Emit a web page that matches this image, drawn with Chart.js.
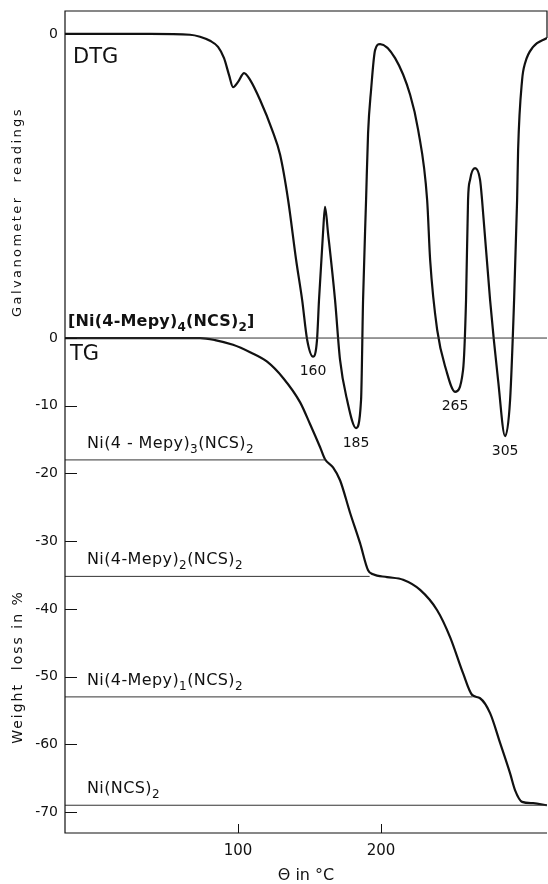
<!DOCTYPE html>
<html>
<head>
<meta charset="utf-8">
<title>DTG / TG - Ni(4-Mepy)4(NCS)2</title>
<script src="https://cdn.jsdelivr.net/npm/chart.js@4.4.1/dist/chart.umd.min.js"></script>
<style>
  html, body { margin: 0; padding: 0; background: #fff; }
  canvas { display: block; }
</style>
</head>
<body>
<canvas id="chart" width="548" height="884"></canvas>
<script>
// Values (temperature in °C)
const tgTemp = [-21, 73.4, 83.9, 96.5, 108.4, 120.3, 131.5, 143.4, 150.3, 157.3, 160.8, 166.4,
    171.3, 178.3, 185.3, 190.9, 194.4, 204.2, 215.4, 227.3, 239.2, 248.3, 257.3, 263.6,
    269.2, 276.2, 283.2, 290.2, 293.7, 298.6, 306.3, 316];
const tgLoss = [0, 0, -0.3, -1.0, -2.1, -3.5, -5.9, -9.5, -12.7, -16.1, -17.9, -19.1,
    -21.0, -25.8, -30.3, -34.3, -34.9, -35.3, -35.7, -37.2, -40.2, -44.2, -49.5, -52.7,
    -53.2, -55.4, -59.8, -64.3, -66.8, -68.5, -68.7, -69.0];

// DTG - galvanometer readings (arbitrary units, 0 = upper baseline)
const dtgTemp = [-21, 38.5, 66.4, 73.4, 80.4, 86.0, 90.2, 93.7, 96.5, 100.0, 104.2, 108.4,
    115.4, 123.8, 129.4, 135.0, 140.6, 144.8, 148.3, 152.4, 155.2, 156.6, 159.4, 160.8,
    162.9, 167.8, 171.3, 176.2, 182.5, 186.0, 187.4, 189.5, 190.9, 193.0, 195.8, 199.3,
    209.8, 220.3, 225.9, 232.2, 234.3, 239.2, 245.5, 251.7, 257.3, 259.4, 260.8, 262.2,
    265.7, 269.2, 270.6, 276.2, 281.8, 286.7, 290.2, 293.0, 295.1, 295.8, 298.6, 300.7,
    306.3, 316];
const dtgReading = [0, 0, -0.2, -0.7, -1.7, -3.2, -6.0, -10.2, -13.2, -11.9, -9.7, -11.4,
    -16.4, -23.8, -30.0, -41.2, -56.1, -66.0, -75.9, -80.1, -75.9, -66.0, -49.4, -42.9,
    -49.4, -66.0, -80.9, -90.8, -97.8, -90.8, -66.0, -41.2, -24.6, -13.9, -4.0, -2.5,
    -6.0, -15.1, -23.8, -41.2, -56.1, -73.4, -83.4, -88.8, -83.4, -66.0, -41.2, -36.2,
    -33.3, -36.2, -41.2, -66.0, -85.9, -99.8, -90.8, -66.0, -41.2, -28.8, -11.4, -7.2,
    -3.2, -1.0];

// Plateaus (weight loss %) and where each level line stops
const levelLoss = [0, -18.0, -35.2, -53.0, -69.0];
const levelEnd = [316, 161, 192, 264, 316];
const levelLabels = ['[Ni(4-Mepy)_4(NCS)_2]', 'Ni(4 - Mepy)_3(NCS)_2', 'Ni(4-Mepy)_2(NCS)_2',
    'Ni(4-Mepy)_1(NCS)_2', 'Ni(NCS)_2'];

// DTG peak temperatures as printed, and the minimum they belong to
const peakLabels = ['160', '185', '265', '305'];
const peakAt = [152.4, 182.5, 251.7, 286.7];

const tgTicks = [0, -10, -20, -30, -40, -50, -60, -70];
const xTicks = [100, 200];

// Axis ranges (both left-hand scales share the frame)
const X_MIN = -21, X_MAX = 316;
const Y_MIN = -73.1, Y_MAX = 48.3;
const DTG_MIN = -198.3, DTG_MAX = 5.7;
const DTG_ZERO_ON_TG = Y_MAX - (DTG_MAX / (DTG_MAX - DTG_MIN)) * (Y_MAX - Y_MIN);

const INK = '#111';
const FONT = '"DejaVu Sans", "Liberation Sans", sans-serif';

function pts(xs, ys) {
    return xs.map((x, i) => ({ x: x, y: ys[i] }));
}

// text with "_n" subscripts
function drawChem(ctx, text, x, y, size, bold) {
    const parts = text.split(/_(\d)/);
    let cx = x;
    parts.forEach((p, i) => {
        if (!p) return;
        const sub = i % 2 === 1;
        const s = sub ? Math.round(size * 0.78) : size;
        ctx.font = (bold ? 'bold ' : '') + s + 'px ' + FONT;
        ctx.fillText(p, cx, sub ? y + 5 : y);
        cx += ctx.measureText(p).width;
    });
}

const annotate = {
    id: 'annotate',
    afterDraw(chart) {
        const { ctx, chartArea: a, scales: { x, y, y2 } } = chart;
        ctx.save();
        ctx.strokeStyle = INK;
        ctx.fillStyle = INK;

        // frame: left, top, bottom and a short piece on the right
        ctx.lineWidth = 1.2;
        ctx.beginPath();
        ctx.moveTo(a.right, y2.getPixelForValue(dtgReading[dtgReading.length - 1]));
        ctx.lineTo(a.right, a.top);
        ctx.lineTo(a.left, a.top);
        ctx.lineTo(a.left, a.bottom);
        ctx.lineTo(a.right, a.bottom);
        ctx.stroke();

        // inward tick marks
        ctx.lineWidth = 1;
        ctx.beginPath();
        tgTicks.forEach(v => {
            const py = Math.round(y.getPixelForValue(v)) + 0.5;
            ctx.moveTo(a.left, py);
            ctx.lineTo(a.left + 12, py);
        });
        xTicks.forEach(v => {
            const px = Math.round(x.getPixelForValue(v)) + 0.5;
            ctx.moveTo(px, a.bottom);
            ctx.lineTo(px, a.bottom - 9);
        });
        ctx.stroke();

        // curve names
        ctx.textAlign = 'left';
        ctx.textBaseline = 'alphabetic';
        ctx.font = '21px ' + FONT;
        ctx.fillText('DTG', a.left + 8, y2.getPixelForValue(0) + 29);
        ctx.fillText('TG', a.left + 5, y.getPixelForValue(0) + 22);

        // compound labels above each plateau
        levelLabels.forEach((t, i) => {
            ctx.letterSpacing = i === 0 ? '0.2px' : '0.4px';
            const py = y.getPixelForValue(levelLoss[i]) - 12;
            drawChem(ctx, t, a.left + (i === 0 ? 3 : 22), py, 16, i === 0);
        });

        // peak temperatures under the DTG minima
        ctx.letterSpacing = '0px';
        ctx.font = '14px ' + FONT;
        ctx.textAlign = 'center';
        ctx.textBaseline = 'middle';
        peakLabels.forEach((t, i) => {
            const k = dtgTemp.indexOf(peakAt[i]);
            ctx.fillText(t, x.getPixelForValue(peakAt[i]), y2.getPixelForValue(dtgReading[k]) + 15);
        });

        // rotated axis titles
        const vtext = (t, cy, spacing) => {
            ctx.save();
            ctx.translate(18, cy);
            ctx.rotate(-Math.PI / 2);
            ctx.letterSpacing = spacing;
            ctx.fillText(t, 0, 0);
            ctx.restore();
        };
        ctx.font = '13px ' + FONT;
        vtext('Galvanometer  readings', 212, '2.4px');
        ctx.font = '14px ' + FONT;
        vtext('Weight  loss in %', 667, '2px');

        ctx.restore();
    }
};

const levelSets = levelLoss.map((v, i) => ({
    data: [{ x: X_MIN, y: v }, { x: levelEnd[i], y: v }],
    borderColor: '#333',
    borderWidth: 1,
    pointRadius: 0,
    yAxisID: 'y'
}));

new Chart(document.getElementById('chart'), {
    type: 'line',
    data: {
        datasets: [
            ...levelSets,
            {
                label: 'TG',
                data: pts(tgTemp, tgLoss),
                borderColor: INK,
                borderWidth: 2.2,
                pointRadius: 0,
                cubicInterpolationMode: 'monotone',
                yAxisID: 'y'
            },
            {
                label: 'DTG',
                data: pts(dtgTemp, dtgReading),
                borderColor: INK,
                borderWidth: 2.2,
                pointRadius: 0,
                cubicInterpolationMode: 'monotone',
                yAxisID: 'y2'
            }
        ]
    },
    options: {
        responsive: false,
        animation: false,
        devicePixelRatio: 1,
        layout: { padding: { top: 11, right: 1, left: 0, bottom: 0 } },
        plugins: {
            legend: { display: false },
            tooltip: { enabled: false }
        },
        scales: {
            x: {
                type: 'linear',
                min: X_MIN,
                max: X_MAX,
                grid: { display: false, drawTicks: false },
                border: { display: false },
                ticks: {
                    padding: 9,
                    color: INK,
                    font: { family: FONT, size: 15 },
                    callback: v => String(v)
                },
                title: {
                    display: true,
                    text: 'Θ in °C',
                    color: INK,
                    font: { family: FONT, size: 16, lineHeight: 1 },
                    padding: { top: 0, bottom: 0 }
                },
                afterBuildTicks: s => { s.ticks = xTicks.map(v => ({ value: v })); },
                afterFit: s => { s.height = 51; s.paddingLeft = 0; s.paddingRight = 0; }
            },
            y: {
                type: 'linear',
                position: 'left',
                min: Y_MIN,
                max: Y_MAX,
                grid: { display: false, drawTicks: false },
                border: { display: false },
                ticks: {
                    padding: 7,
                    autoSkip: false,
                    color: INK,
                    font: { family: FONT, size: 14 },
                    callback: v => (v > 1 ? '0' : String(v))
                },
                afterBuildTicks: s => {
                    s.ticks = [DTG_ZERO_ON_TG, ...tgTicks].map(v => ({ value: v }));
                },
                afterFit: s => { s.width = 65; s.paddingTop = 0; s.paddingBottom = 0; }
            },
            y2: {
                type: 'linear',
                display: false,
                min: DTG_MIN,
                max: DTG_MAX
            }
        }
    },
    plugins: [annotate]
});
</script>
</body>
</html>
